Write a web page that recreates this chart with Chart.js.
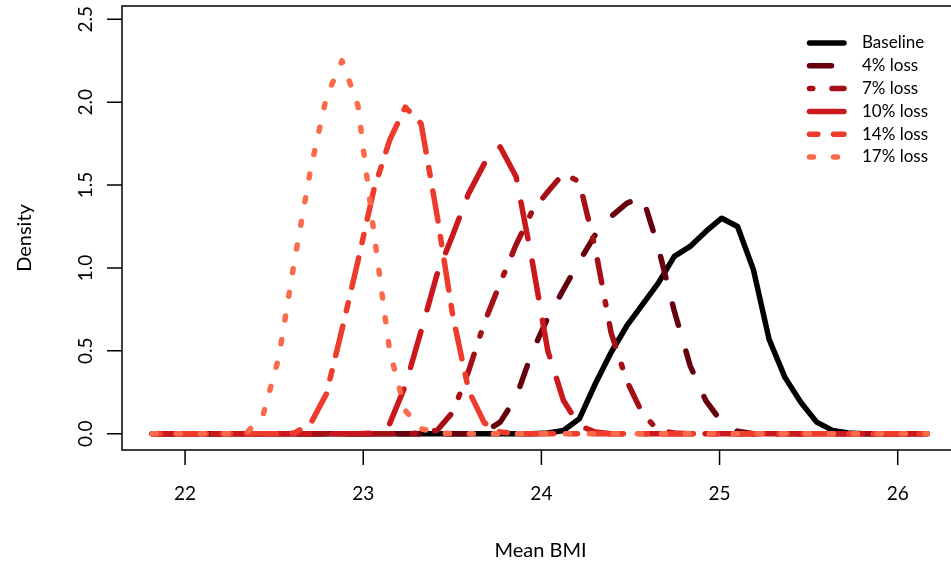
<!DOCTYPE html>
<html>
<head>
<meta charset="utf-8">
<script src="https://cdn.jsdelivr.net/npm/chart.js@4.4.1/dist/chart.umd.min.js"></script>
<style>
  html, body { margin: 0; padding: 0; background: #fff; overflow: hidden; }
  #wrap { width: 970px; height: 565px; }
</style>
</head>
<body>
<div id="wrap"><canvas id="chart" width="970" height="565"></canvas></div>
<script>
// grid of mean BMI values shared by all curves
const bmiGrid = [
  21.816, 21.905, 21.994, 22.082, 22.171, 22.260, 22.349, 22.437, 22.526, 22.615,
  22.704, 22.793, 22.881, 22.970, 23.059, 23.148, 23.236, 23.325, 23.414, 23.503,
  23.592, 23.680, 23.769, 23.858, 23.947, 24.036, 24.124, 24.213, 24.302, 24.391,
  24.479, 24.568, 24.657, 24.746, 24.835, 24.923, 25.012, 25.101, 25.190, 25.278,
  25.367, 25.456, 25.545, 25.634, 25.722, 25.811, 25.900, 25.989, 26.077, 26.166
];

const baseline = [
  0, 0, 0, 0, 0, 0, 0, 0, 0, 0,
  0, 0, 0, 0, 0, 0, 0, 0, 0, 0,
  0, 0, 0, 0, 0, 0.005, 0.02, 0.09, 0.30, 0.49,
  0.65, 0.78, 0.91, 1.07, 1.13, 1.22, 1.30, 1.25, 0.99, 0.57,
  0.34, 0.19, 0.07, 0.02, 0.005, 0, 0, 0, 0, 0
];
const loss4 = [
  0, 0, 0, 0, 0, 0, 0, 0, 0, 0,
  0, 0, 0, 0, 0, 0, 0, 0, 0, 0,
  0, 0.01, 0.07, 0.22, 0.49, 0.70, 0.87, 1.04, 1.20, 1.31,
  1.39, 1.43, 1.12, 0.74, 0.41, 0.20, 0.07, 0.015, 0, 0,
  0, 0, 0, 0, 0, 0, 0, 0, 0, 0
];
const loss7 = [
  0, 0, 0, 0, 0, 0, 0, 0, 0, 0,
  0, 0, 0, 0, 0, 0, 0, 0.005, 0.02, 0.13,
  0.38, 0.67, 0.91, 1.14, 1.34, 1.46, 1.57, 1.52, 1.12, 0.61,
  0.32, 0.12, 0.02, 0.005, 0, 0, 0, 0, 0, 0,
  0, 0, 0, 0, 0, 0, 0, 0, 0, 0
];
const loss10 = [
  0, 0, 0, 0, 0, 0, 0, 0, 0, 0,
  0, 0, 0, 0, 0.005, 0.06, 0.29, 0.62, 0.96, 1.20,
  1.45, 1.63, 1.73, 1.55, 1.05, 0.50, 0.20, 0.05, 0.01, 0,
  0, 0, 0, 0, 0, 0, 0, 0, 0, 0,
  0, 0, 0, 0, 0, 0, 0, 0, 0, 0
];
const loss14 = [
  0, 0, 0, 0, 0, 0, 0, 0, 0, 0.005,
  0.06, 0.24, 0.63, 1.04, 1.47, 1.77, 1.97, 1.87, 1.32, 0.71,
  0.26, 0.065, 0.01, 0, 0, 0, 0, 0, 0, 0,
  0, 0, 0, 0, 0, 0, 0, 0, 0, 0,
  0, 0, 0, 0, 0, 0, 0, 0, 0, 0
];
const loss17 = [
  0, 0, 0, 0, 0, 0, 0.01, 0.11, 0.46, 1.05,
  1.59, 2.03, 2.25, 1.98, 1.22, 0.50, 0.14, 0.03, 0.005, 0,
  0, 0, 0, 0, 0, 0, 0, 0, 0, 0,
  0, 0, 0, 0, 0, 0, 0, 0, 0, 0,
  0, 0, 0, 0, 0, 0, 0, 0, 0, 0
];

const seriesNames = ['Baseline', '4% loss', '7% loss', '10% loss', '14% loss', '17% loss'];
const xTicks = [22, 23, 24, 25, 26];
const yTicks = [0, 0.5, 1, 1.5, 2, 2.5];

const allSeries = [baseline, loss4, loss7, loss10, loss14, loss17];
const colors = ['#000000', '#67000D', '#A50F15', '#CB181D', '#EF3B2C', '#FB6A4A'];
// R style line types: solid, dashed, dotdash, longdash, twodash, dotted
const dashes = [[], [22, 27], [3.3, 19.2, 23.3, 19.2], [37.3, 22.7], [8.3, 15.7, 30.3, 15.7], [4, 20]];

const datasets = allSeries.map((vals, i) => ({
  label: seriesNames[i],
  data: bmiGrid.map((x, j) => ({ x: x, y: vals[j] })),
  borderColor: colors[i],
  borderDash: dashes[i],
  order: allSeries.length - i
}));

const TICK_FONT = '19px Lato';
const TITLE_FONT = '20px Lato';
const LEGEND_FONT = '17px Lato';

// axes, box and legend drawn the way base R does it
const rAxesPlugin = {
  id: 'rAxes',
  afterDraw(chart) {
    const ctx = chart.ctx;
    const area = chart.chartArea;
    const xs = chart.scales.x;
    const ys = chart.scales.y;
    ctx.save();
    ctx.strokeStyle = '#000';
    ctx.lineWidth = 1.5;
    ctx.strokeRect(area.left, area.top, area.right - area.left, area.bottom - area.top);

    ctx.beginPath();
    xTicks.forEach(v => {
      const x = xs.getPixelForValue(v);
      ctx.moveTo(x, area.bottom);
      ctx.lineTo(x, area.bottom + 15);
    });
    yTicks.forEach(v => {
      const y = ys.getPixelForValue(v);
      ctx.moveTo(area.left, y);
      ctx.lineTo(area.left - 15, y);
    });
    ctx.stroke();

    ctx.fillStyle = '#000';
    ctx.font = TICK_FONT;
    ctx.textAlign = 'center';
    ctx.textBaseline = 'middle';
    xTicks.forEach(v => ctx.fillText(String(v), xs.getPixelForValue(v), 494));
    yTicks.forEach(v => {
      ctx.save();
      ctx.translate(86, ys.getPixelForValue(v));
      ctx.rotate(-Math.PI / 2);
      ctx.fillText(v.toFixed(1), 0, 0);
      ctx.restore();
    });
    ctx.font = TITLE_FONT;
    ctx.fillText('Mean BMI', (area.left + area.right) / 2, 551);
    ctx.save();
    ctx.translate(25, 238);
    ctx.rotate(-Math.PI / 2);
    ctx.fillText('Density', 0, 0);
    ctx.restore();

    // legend
    ctx.font = LEGEND_FONT;
    ctx.textAlign = 'left';
    chart.data.datasets.forEach((ds, i) => {
      const y = 43 + 22.8 * i;
      ctx.save();
      ctx.strokeStyle = ds.borderColor;
      ctx.lineWidth = 5.5;
      ctx.lineCap = 'round';
      ctx.setLineDash(ds.borderDash);
      ctx.beginPath();
      ctx.moveTo(809.5, y);
      ctx.lineTo(844, y);
      ctx.stroke();
      ctx.restore();
      ctx.fillText(ds.label, 862, y);
    });
    ctx.restore();
  }
};

new Chart(document.getElementById('chart'), {
  type: 'line',
  data: { datasets },
  options: {
    responsive: false,
    animation: false,
    layout: { padding: { left: 122, top: 6, right: 11, bottom: 115 } },
    plugins: { legend: { display: false }, tooltip: { enabled: false } },
    scales: {
      x: { type: 'linear', min: 21.646, max: 26.344, display: false },
      y: { min: -0.098, max: 2.58, display: false }
    },
    elements: {
      point: { radius: 0 },
      line: { tension: 0, borderWidth: 5.5, borderCapStyle: 'round', borderJoinStyle: 'round' }
    }
  },
  plugins: [rAxesPlugin]
});
</script>
</body>
</html>
